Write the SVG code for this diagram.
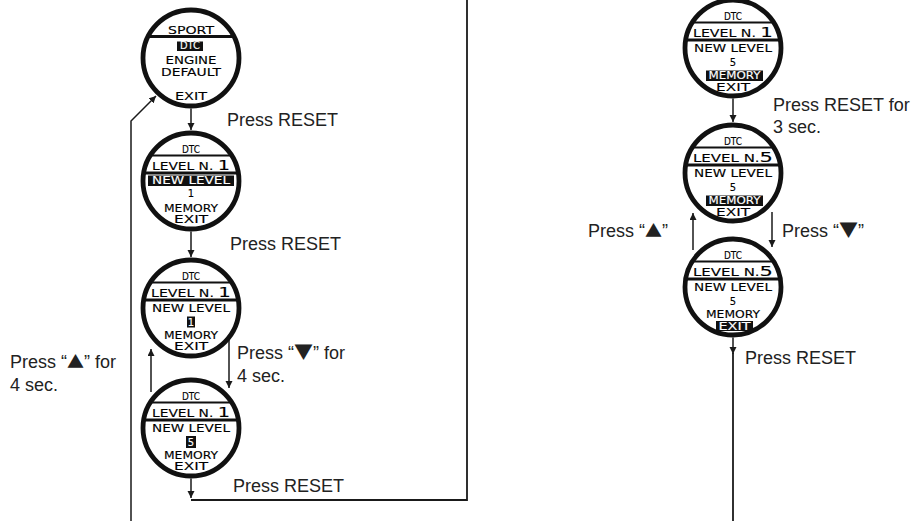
<svg xmlns="http://www.w3.org/2000/svg" width="911" height="521" viewBox="0 0 911 521">
<style>
.disc{fill:#fff;stroke:#111;stroke-width:4.8}
.lcd{font-family:"DejaVu Sans","Liberation Sans",sans-serif;font-size:10px;text-anchor:middle;fill:#000;stroke:#000;stroke-width:0.12}
.inv{fill:#fff;stroke:#fff}
.blk{fill:#111}
.ch1{stroke:#111;stroke-width:2}
.ch2{stroke:#111;stroke-width:3}
.lbl{font-family:"Liberation Sans",Arial,sans-serif;font-size:18px;fill:#222}
.tri{font-family:"Noto Sans CJK JP","DejaVu Sans",sans-serif;font-size:17px}
.trid{font-family:"Noto Sans CJK JP","DejaVu Sans",sans-serif;font-size:19px}
.wire{fill:none;stroke:#1a1a1a;stroke-width:1.8}
.arr{fill:none;stroke:#1a1a1a;stroke-width:1.5;marker-end:url(#ah)}
</style>
<defs>
<marker id="ah" markerUnits="userSpaceOnUse" markerWidth="8" markerHeight="8" refX="7" refY="3.5" orient="auto"><path d="M0,0 L7,3.5 L0,7 z" fill="#1a1a1a"/></marker>
</defs>

<g id="connectors">
<path class="arr" d="M131,521 V121 L156,96"/>
<path class="arr" d="M191,108.5 V130"/>
<path class="arr" d="M191,231.5 V257"/>
<path class="arr" d="M229,339 V388"/>
<path class="arr" d="M151,392 V349"/>
<path class="arr" d="M191,478.5 V498"/>
<path class="wire" d="M191,500 H467 V0"/>
<path class="arr" d="M733,98.5 V122"/>
<path class="arr" d="M693,250 V213"/>
<path class="arr" d="M772,212 V247"/>
<path class="arr" d="M733,337.5 V354"/>
<path class="wire" d="M733,353 V521"/>
</g>

<g id="labels">
<text class="lbl" x="227" y="126">Press RESET</text>
<text class="lbl" x="230" y="250">Press RESET</text>
<text class="lbl" x="237" y="359">Press “<tspan class="trid">▼</tspan>” for</text>
<text class="lbl" x="237" y="382">4 sec.</text>
<text class="lbl" x="10" y="368">Press “<tspan class="tri">▲</tspan>” for</text>
<text class="lbl" x="10" y="391">4 sec.</text>
<text class="lbl" x="233" y="492">Press RESET</text>
<text class="lbl" x="773" y="111">Press RESET for</text>
<text class="lbl" x="773" y="133">3 sec.</text>
<text class="lbl" x="588" y="237">Press “<tspan class="tri">▲</tspan>”</text>
<text class="lbl" x="782" y="237">Press “<tspan class="trid">▼</tspan>”</text>
<text class="lbl" x="745" y="364">Press RESET</text>
</g>

<g id="node-sport" transform="translate(191,58)">
<circle r="48" class="disc"/>
<text class="lcd" y="-24.5" textLength="46" lengthAdjust="spacingAndGlyphs">SPORT</text>
<line class="ch2" x1="-42.9" y1="-21.5" x2="42.9" y2="-21.5"/>
<rect class="blk" x="-14" y="-16.5" width="26" height="9.5"/>
<text class="lcd inv" x="-1" y="-8.6" textLength="20" lengthAdjust="spacingAndGlyphs">DTC</text>
<text class="lcd" y="5.6" textLength="51" lengthAdjust="spacingAndGlyphs">ENGINE</text>
<text class="lcd" y="18" textLength="60" lengthAdjust="spacingAndGlyphs">DEFAULT</text>
<text class="lcd" y="42" textLength="32" lengthAdjust="spacingAndGlyphs">EXIT</text>
</g>

<g id="node-newlevel" transform="translate(191,181)">
<circle r="48" class="disc"/>
<text class="lcd" y="-28.5" textLength="18" lengthAdjust="spacingAndGlyphs">DTC</text>
<line class="ch1" x1="-40.7" y1="-25.5" x2="40.7" y2="-25.5"/>
<text class="lcd" y="-11.5" font-size="11" textLength="78" lengthAdjust="spacingAndGlyphs">LEVEL N. <tspan font-size="14">1</tspan></text>
<line class="ch2" x1="-47.3" y1="-8" x2="47.3" y2="-8"/>
<rect class="blk" x="-43" y="-5.5" width="86" height="10.5"/>
<text class="lcd inv" y="3.4" textLength="78" lengthAdjust="spacingAndGlyphs">NEW LEVEL</text>
<text class="lcd" y="15.5" font-size="11">1</text>
<text class="lcd" y="30.5" textLength="54" lengthAdjust="spacingAndGlyphs">MEMORY</text>
<text class="lcd" y="42" textLength="34" lengthAdjust="spacingAndGlyphs">EXIT</text>
</g>

<g id="node-level1" transform="translate(191,308)">
<circle r="48" class="disc"/>
<text class="lcd" y="-28.5" textLength="18" lengthAdjust="spacingAndGlyphs">DTC</text>
<line class="ch1" x1="-40.7" y1="-25.5" x2="40.7" y2="-25.5"/>
<text class="lcd" y="-11.5" font-size="11" textLength="80" lengthAdjust="spacingAndGlyphs">LEVEL N. <tspan font-size="14">1</tspan></text>
<line class="ch2" x1="-47.3" y1="-8" x2="47.3" y2="-8"/>
<text class="lcd" y="3.6" textLength="78" lengthAdjust="spacingAndGlyphs">NEW LEVEL</text>
<rect class="blk" x="-4" y="8.5" width="8" height="11"/>
<text class="lcd inv" y="17.5">1</text>
<text class="lcd" y="30.5" textLength="54" lengthAdjust="spacingAndGlyphs">MEMORY</text>
<text class="lcd" y="42" textLength="34" lengthAdjust="spacingAndGlyphs">EXIT</text>
</g>

<g id="node-level5" transform="translate(191,428)">
<circle r="48" class="disc"/>
<text class="lcd" y="-28.5" textLength="18" lengthAdjust="spacingAndGlyphs">DTC</text>
<line class="ch1" x1="-40.7" y1="-25.5" x2="40.7" y2="-25.5"/>
<text class="lcd" y="-11.5" font-size="11" textLength="78" lengthAdjust="spacingAndGlyphs">LEVEL N. <tspan font-size="14">1</tspan></text>
<line class="ch2" x1="-47.3" y1="-8" x2="47.3" y2="-8"/>
<text class="lcd" y="3.6" textLength="78" lengthAdjust="spacingAndGlyphs">NEW LEVEL</text>
<rect class="blk" x="-5" y="8" width="10" height="12"/>
<text class="lcd inv" y="17.8" font-size="11">5</text>
<text class="lcd" y="30.5" textLength="54" lengthAdjust="spacingAndGlyphs">MEMORY</text>
<text class="lcd" y="42" textLength="34" lengthAdjust="spacingAndGlyphs">EXIT</text>
</g>

<g id="node-memory1" transform="translate(733,48)">
<circle r="48" class="disc"/>
<text class="lcd" y="-28.5" textLength="18" lengthAdjust="spacingAndGlyphs">DTC</text>
<line class="ch1" x1="-40.7" y1="-25.5" x2="40.7" y2="-25.5"/>
<text class="lcd" y="-11.5" font-size="11" textLength="80" lengthAdjust="spacingAndGlyphs">LEVEL N. <tspan font-size="14">1</tspan></text>
<line class="ch2" x1="-47.3" y1="-8" x2="47.3" y2="-8"/>
<text class="lcd" y="3.6" textLength="78" lengthAdjust="spacingAndGlyphs">NEW LEVEL</text>
<text class="lcd" y="17.5" font-size="12">5</text>
<rect class="blk" x="-27" y="22.5" width="57" height="10.5"/>
<text class="lcd inv" x="1.5" y="31.3" textLength="52" lengthAdjust="spacingAndGlyphs">MEMORY</text>
<text class="lcd" y="42.5" textLength="34" lengthAdjust="spacingAndGlyphs">EXIT</text>
</g>

<g id="node-memory5" transform="translate(733,173)">
<circle r="48" class="disc"/>
<text class="lcd" y="-28.5" textLength="18" lengthAdjust="spacingAndGlyphs">DTC</text>
<line class="ch1" x1="-40.7" y1="-25.5" x2="40.7" y2="-25.5"/>
<text class="lcd" y="-11.5" font-size="11" textLength="80" lengthAdjust="spacingAndGlyphs">LEVEL N.<tspan font-size="14">5</tspan></text>
<line class="ch2" x1="-47.3" y1="-8" x2="47.3" y2="-8"/>
<text class="lcd" y="3.6" textLength="78" lengthAdjust="spacingAndGlyphs">NEW LEVEL</text>
<text class="lcd" y="17.5" font-size="12">5</text>
<rect class="blk" x="-27" y="22.5" width="57" height="10.5"/>
<text class="lcd inv" x="1.5" y="31.3" textLength="52" lengthAdjust="spacingAndGlyphs">MEMORY</text>
<text class="lcd" y="42.5" textLength="34" lengthAdjust="spacingAndGlyphs">EXIT</text>
</g>

<g id="node-exit5" transform="translate(733,287)">
<circle r="48" class="disc"/>
<text class="lcd" y="-28.5" textLength="18" lengthAdjust="spacingAndGlyphs">DTC</text>
<line class="ch1" x1="-40.7" y1="-25.5" x2="40.7" y2="-25.5"/>
<text class="lcd" y="-11.5" font-size="11" textLength="80" lengthAdjust="spacingAndGlyphs">LEVEL N.<tspan font-size="14">5</tspan></text>
<line class="ch2" x1="-47.3" y1="-8" x2="47.3" y2="-8"/>
<text class="lcd" y="3.6" textLength="78" lengthAdjust="spacingAndGlyphs">NEW LEVEL</text>
<text class="lcd" y="17.5" font-size="12">5</text>
<text class="lcd" y="30.5" textLength="54" lengthAdjust="spacingAndGlyphs">MEMORY</text>
<rect class="blk" x="-17" y="34" width="37" height="10"/>
<text class="lcd inv" x="1.5" y="42.5" textLength="32" lengthAdjust="spacingAndGlyphs">EXIT</text>
</g>
</svg>
